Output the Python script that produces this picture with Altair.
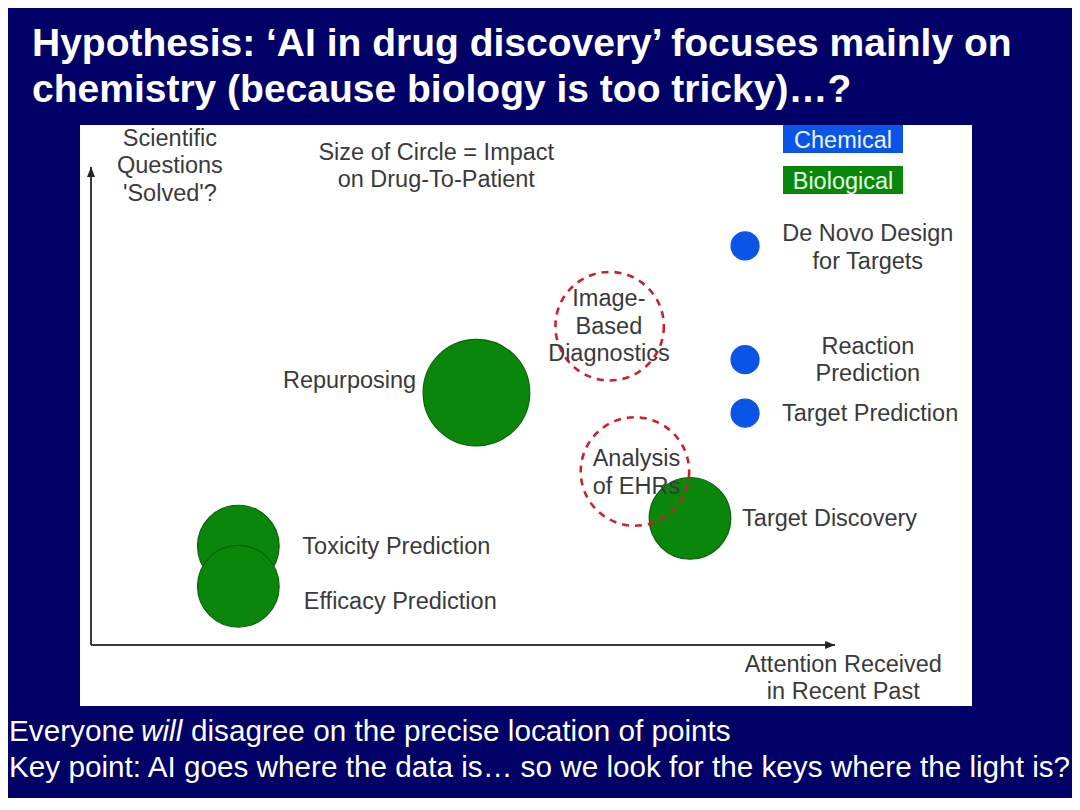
import altair as alt
import pandas as pd

FONT = "Liberation Sans"

# ---------------- text content ----------------
title_lines = [
    "Hypothesis: \u2018AI in drug discovery\u2019 focuses mainly on",
    "chemistry (because biology is too tricky)\u2026?",
]
footer_line1 = ["Everyone", "will", "disagree on the precise location of points"]
footer_line2 = ["Key point: AI goes where the data is\u2026 so we look for the keys where the light is?"]

# ---------------- bubbles (attention received vs questions solved) ----------------
names = [
    "De Novo Design for Targets", "Reaction Prediction", "Target Prediction",
    "Repurposing", "Target Discovery", "Toxicity Prediction", "Efficacy Prediction",
    "Image-Based Diagnostics", "Analysis of EHRs",
]
category = ["Chemical", "Chemical", "Chemical",
            "Biological", "Biological", "Biological", "Biological",
            "Uncertain", "Uncertain"]
attention = [8.79, 8.79, 8.79, 5.18, 8.05, 1.98, 1.98, 6.97, 7.31]
solved = [8.35, 5.97, 4.85, 5.28, 2.65, 2.07, 1.23, 6.67, 3.63]
impact = [1.0, 1.0, 1.0, 14.5, 8.5, 8.5, 8.5, 15.0, 15.0]

# ---------------- bubble labels ----------------
label_text = [
    "De Novo Design\nfor Targets", "Reaction\nPrediction", "Target Prediction",
    "Repurposing", "Target Discovery", "Toxicity Prediction", "Efficacy Prediction",
    "Image-\nBased\nDiagnostics", "Analysis\nof EHRs",
]
label_attention = [10.44, 10.44, 10.47, 4.37, 8.75, 2.84, 2.86, 6.96, 7.33]
label_solved = [8.45, 6.09, 4.69, 5.38, 2.49, 1.90, 0.75, 7.09, 3.74]
label_anchor = ["center", "center", "center", "right", "left", "left", "left", "center", "center"]

# ---------------- axis notes ----------------
note_text = ["Scientific\nQuestions\n'Solved'?",
             "Size of Circle = Impact\non Drug-To-Patient",
             "Attention Received\nin Recent Past"]
note_attention = [1.06, 4.64, 10.11]
note_solved = [10.44, 10.15, -0.56]

axis_range = [0, 10]
legend_names = ["Chemical", "Biological"]

# ---------------- scales ----------------
xs = alt.Scale(domain=[-0.148, 11.84], nice=False, zero=False)
ys = alt.Scale(domain=[-1.276, 10.879], nice=False, zero=False)
size_scale = alt.Scale(type="linear", domain=[0, 10], range=[0, 7840], zero=True)
fill_scale = alt.Scale(domain=legend_names, range=["#0a55e8", "#0a870a"])
stroke_scale = alt.Scale(domain=legend_names, range=["#0a55e8", "#0b600b"])

pts = pd.DataFrame({"name": names, "kind": category, "attention": attention,
                    "solved": solved, "impact": impact})
labels = pd.DataFrame({"text": label_text, "attention": label_attention,
                       "solved": label_solved, "anchor": label_anchor})
notes = pd.DataFrame({"text": note_text, "attention": note_attention, "solved": note_solved})

X = alt.X("attention:Q", scale=xs, axis=None)
Y = alt.Y("solved:Q", scale=ys, axis=None)

# arrows
h_axis = alt.Chart(pd.DataFrame({"attention": [axis_range[0]], "a2": [axis_range[1]],
                                 "solved": [axis_range[0]]})).mark_rule(
    color="#3a3a3a", strokeWidth=2).encode(x=X, x2="a2:Q", y=Y)
v_axis = alt.Chart(pd.DataFrame({"attention": [axis_range[0]], "solved": [axis_range[0]],
                                 "s2": [axis_range[1]]})).mark_rule(
    color="#3a3a3a", strokeWidth=2).encode(x=X, y=Y, y2="s2:Q")
h_head = alt.Chart(pd.DataFrame({"attention": [axis_range[1]], "solved": [axis_range[0]]})).mark_point(
    shape="M0,0L-2,-0.8L-2,0.8Z", filled=True, size=100, color="#222222", opacity=1).encode(x=X, y=Y)
v_head = alt.Chart(pd.DataFrame({"attention": [axis_range[0]], "solved": [axis_range[1]]})).mark_point(
    shape="M0,0L-0.8,2L0.8,2Z", filled=True, size=100, color="#222222", opacity=1).encode(x=X, y=Y)

solid = alt.Chart(pts).transform_filter(alt.datum.kind != "Uncertain").mark_circle(
    opacity=1, strokeWidth=1.2).encode(
    x=X, y=Y,
    size=alt.Size("impact:Q", scale=size_scale, legend=None),
    fill=alt.Fill("kind:N", scale=fill_scale, legend=None),
    stroke=alt.Stroke("kind:N", scale=stroke_scale, legend=None),
)
dashed = alt.Chart(pts).transform_filter(alt.datum.kind == "Uncertain").mark_point(
    shape="circle", filled=False, opacity=1, color="#c8232b", strokeWidth=2.6,
    strokeDash=[7, 6]).encode(
    x=X, y=Y, size=alt.Size("impact:Q", scale=size_scale, legend=None))

label_layers = []
for anc in ["center", "left", "right"]:
    label_layers.append(
        alt.Chart(labels).transform_filter(alt.datum.anchor == anc).mark_text(
            font=FONT, fontSize=23.5, color="#3a3a3a", align=anc, baseline="alphabetic",
            lineBreak="\n", lineHeight=27.5).encode(x=X, y=Y, text="text:N"))

note_layer = alt.Chart(notes).mark_text(
    font=FONT, fontSize=23.5, color="#3a3a3a", align="center", baseline="alphabetic",
    lineBreak="\n", lineHeight=27.5).encode(x=X, y=Y, text="text:N")

# legend boxes (chart furniture, pixel placement inside the panel)
legend_layers = []
legend_text_colors = ["#eef3ff", "#e8ffe8"]
for i, top in enumerate([0, 41]):
    d = pd.DataFrame({"kind": [legend_names[i]]})
    legend_layers.append(alt.Chart(d).mark_rect().encode(
        x=alt.value(703), x2=alt.value(823), y=alt.value(top), y2=alt.value(top + 28),
        fill=alt.Fill("kind:N", scale=fill_scale, legend=None)))
    legend_layers.append(alt.Chart(d).mark_text(
        font=FONT, fontSize=23.5, align="center", baseline="alphabetic",
        color=legend_text_colors[i]).encode(
        x=alt.value(763), y=alt.value(top + 23), text="kind:N"))

# slide title and footer text
def free_text(txt, x, y, size, weight="normal", style="normal"):
    return alt.Chart(pd.DataFrame({"t": [txt]})).mark_text(
        font=FONT, fontSize=size, fontWeight=weight, fontStyle=style, color="white",
        align="left", baseline="alphabetic").encode(
        x=alt.value(x), y=alt.value(y), text="t:N")

text_layers = [
    free_text(title_lines[0], -48, -69, 39, weight="bold"),
    free_text(title_lines[1], -48, -23, 39, weight="bold"),
    free_text(footer_line1[0], -71, 616, 29.7),
    free_text(footer_line1[1], 61, 616, 29.7, style="italic"),
    free_text(footer_line1[2], 111, 616, 29.7),
    free_text(footer_line2[0], -71, 652, 29.7),
]

chart = alt.layer(
    h_axis, v_axis, h_head, v_head, solid, dashed, *label_layers, note_layer,
    *legend_layers, *text_layers,
).properties(
    width=892, height=581,
    padding={"left": 72, "top": 117, "right": 100, "bottom": 92},
    autosize=alt.AutoSizeParams(type="none"),
    background="#000066",
).configure_view(fill="white", stroke=None)

chart.save("out.html", embed_options={"renderer": "svg", "actions": False})
